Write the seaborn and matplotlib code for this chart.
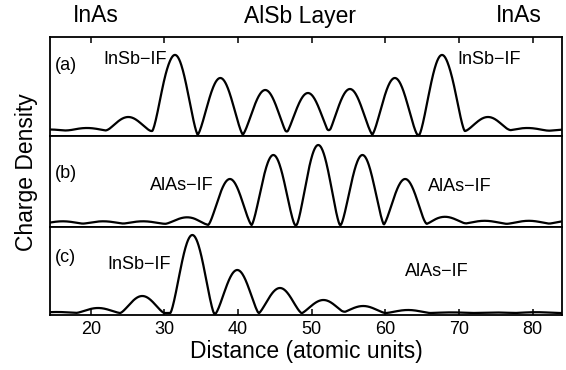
import numpy as np
import pandas as pd
import matplotlib
matplotlib.use("Agg")
import matplotlib.pyplot as plt
import seaborn as sns

# Peak positions (atomic units) and peak heights
# (a) symmetric InSb interfaces
a_centers = [14.3, 19.5, 25.1, 31.45, 37.6, 43.7, 49.5, 55.2, 61.3, 67.7, 73.95, 79.3, 84.8]
a_heights = [1.5, 3.0, 14.0, 80.0, 57.0, 45.0, 42.0, 46.0, 57.0, 80.0, 14.0, 3.0, 1.5]
a_background = 4.0
a_edges = (30.3, 69.0)

# (b) symmetric AlAs interfaces
b_centers = [10.7, 16.2, 21.7, 27.1, 33.1, 38.9, 44.8, 50.9, 56.9, 62.7, 68.1, 73.5, 79.5, 85.0]
b_heights = [2.5, 2.5, 2.5, 2.5, 6.5, 46.0, 70.0, 80.0, 70.0, 46.0, 7.0, 3.0, 3.0, 3.0]
b_background = 1.2
b_edges = (34.6, 66.5)

# (c) InSb interface left, AlAs interface right
c_centers = [15.4, 21.0, 27.0, 33.8, 39.9, 45.7, 51.6, 57.0, 63.1, 69.0, 74.8, 80.5]
c_heights = [1.0, 5.0, 17.0, 79.0, 44.0, 26.0, 13.0, 7.0, 3.0, 0.6, 0.5, 0.8]
c_background = 1.0
c_edges = (31.5, 48.5)

x_ticks = [20, 30, 40, 50, 60, 70, 80]


def density(x, centers, heights, half_width, bg, edges, edge_w=0.6, power=1.4):
    y = np.zeros_like(x)
    for c, h in zip(centers, heights):
        d = x - c
        y += np.where(np.abs(d) < half_width,
                      h * np.abs(np.cos(np.pi * d / (2 * half_width))) ** power, 0.0)
    outside = 1 - 0.5 * (np.tanh((x - edges[0]) / edge_w) - np.tanh((x - edges[1]) / edge_w))
    return y + bg * outside


x = np.linspace(14.47, 84.0, 1400)
df = pd.DataFrame({
    "x": x,
    "a": density(x, a_centers, a_heights, 3.1, a_background, a_edges),
    "b": density(x, b_centers, b_heights, 2.95, b_background, b_edges),
    "c": density(x, c_centers, c_heights, 3.0, c_background, c_edges),
})

sns.set_style("ticks")
plt.rcParams['font.family'] = ['Liberation Sans', 'DejaVu Sans']
plt.rcParams['text.color'] = 'black'
plt.rcParams['axes.labelcolor'] = 'black'
plt.rcParams['xtick.color'] = 'black'

W, H = 566, 370
fig = plt.figure(figsize=(W / 100, H / 100), dpi=100)
gs = fig.add_gridspec(3, 1, height_ratios=[99, 91, 88], hspace=0,
                      left=50 / W, right=562 / W, bottom=1 - 315 / H, top=1 - 37 / H)
axes = [fig.add_subplot(gs[i]) for i in range(3)]

ylims = [(-1, 98), (-2, 89), (-1, 87)]
for ax, col, yl in zip(axes, ["a", "b", "c"], ylims):
    sns.lineplot(data=df, x="x", y=col, ax=ax, color="black", linewidth=1.6)
    ax.set_xlim(14.47, 84.0)
    ax.set_ylim(*yl)
    ax.set_yticks([])
    ax.set_xlabel("")
    ax.set_ylabel("")
    for s in ax.spines.values():
        s.set_visible(True)
        s.set_linewidth(1.3)
        s.set_color("black")

# ticks: top of (a) and bottom of (c), pointing inward
axes[0].set_xticks(x_ticks)
axes[0].tick_params(axis="x", direction="in", top=True, bottom=False,
                    labeltop=False, labelbottom=False, length=4, width=1.1)
axes[1].set_xticks([])
axes[2].set_xticks(x_ticks)
axes[2].tick_params(axis="x", direction="in", top=False, bottom=True,
                    labelsize=13, labelcolor="black", length=4, width=1.1, pad=4)

lab = dict(fontsize=13, va="center", ha="left", color="black")
axes[0].text(15.1, 70, "(a)", **lab)
axes[0].text(21.7, 75, "InSb\u2212IF", **lab)
axes[0].text(69.8, 75, "InSb\u2212IF", **lab)
axes[1].text(15.1, 51, "(b)", **lab)
axes[1].text(28.1, 40, "AlAs\u2212IF", **lab)
axes[1].text(65.8, 38.5, "AlAs\u2212IF", **lab)
axes[2].text(15.1, 57, "(c)", **lab)
axes[2].text(22.3, 49.5, "InSb\u2212IF", **lab)
axes[2].text(62.7, 42.5, "AlAs\u2212IF", **lab)

axes[2].set_xlabel("Distance (atomic units)", fontsize=16.5, labelpad=2, color="black")
fig.text(27 / W, 1 - 172 / H, "Charge Density", rotation=90,
         fontsize=16.5, ha="center", va="center", color="black")

top = dict(fontsize=16.5, ha="center", va="center", color="black")
fig.text(95.5 / W, 1 - 16 / H, "InAs", **top)
fig.text(300 / W, 1 - 16 / H, "AlSb Layer", **top)
fig.text(519 / W, 1 - 16 / H, "InAs", **top)

fig.savefig("out.png", dpi=100)
plt.close(fig)
